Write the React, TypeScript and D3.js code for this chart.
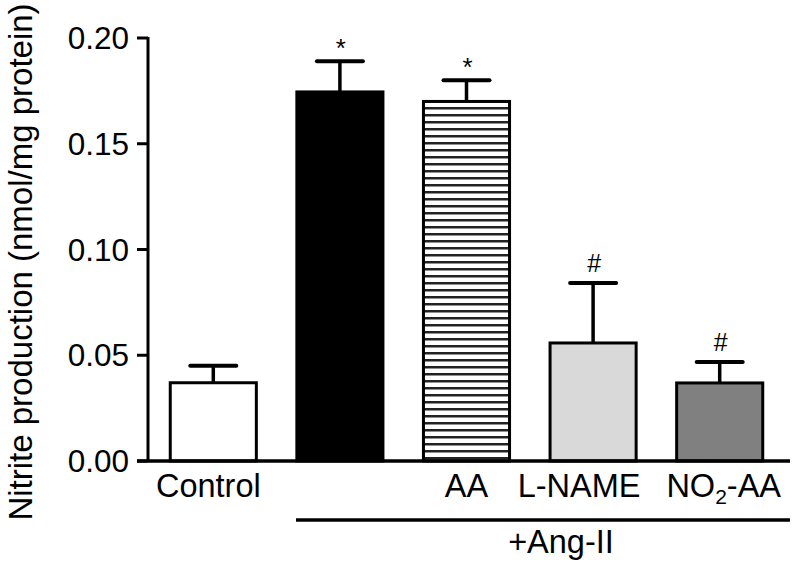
import React from "react";
import * as d3 from "d3";

const categories = ["Control", "Ang-II", "AA", "L-NAME", "NO2-AA"];
const means = [0.037, 0.1745, 0.170, 0.0558, 0.0369];
const errors = [0.008, 0.0145, 0.010, 0.0284, 0.0099];
const marks = ["", "*", "*", "#", "#"];
const yTicks = [0.0, 0.05, 0.1, 0.15, 0.2];
const fills = ["#ffffff", "#000000", "url(#hstripes)", "#d9d9d9", "#808080"];

const W = 792;
const H = 572;
const FONT = "Liberation Sans, Arial, sans-serif";

export default function App() {
  const y = d3.scaleLinear().domain([0, 0.2]).range([461, 38]);
  const x = d3
    .scaleBand<string>()
    .domain(categories)
    .range([150, 783])
    .paddingInner(0.32)
    .paddingOuter(0.16);
  const bw = x.bandwidth();
  const axisX = 148;

  return (
    <svg width={W} height={H} style={{ position: "absolute", left: 0, top: 0, background: "#fff" }}>
      <defs>
        <pattern id="hstripes" patternUnits="userSpaceOnUse" width={8} height={7}>
          <rect width={8} height={7} fill="#fff" />
          <rect y={2} width={8} height={2.5} fill="#222" />
        </pattern>
      </defs>
      <rect width={W} height={H} fill="#fff" />
      {categories.map((c, i) => {
        const x0 = x(c)!;
        const cx = x0 + bw / 2;
        const top = y(means[i]);
        const capY = y(means[i] + errors[i]);
        return (
          <g key={c}>
            <line x1={cx} x2={cx} y1={top} y2={capY} stroke="#000" strokeWidth={3.5} />
            <line x1={cx - 23} x2={cx + 23} y1={capY} y2={capY} stroke="#000" strokeWidth={4} strokeLinecap="round" />
            <rect x={x0} y={top} width={bw} height={y(0) - top} fill={fills[i]} stroke="#000" strokeWidth={3} />
            {marks[i] && (
              <text
                x={cx + 1}
                y={marks[i] === "*" ? capY - 4 : capY - 11}
                textAnchor="middle"
                fontFamily={FONT}
                fontSize={marks[i] === "*" ? 26 : 25}
                fill="#000"
              >
                {marks[i]}
              </text>
            )}
          </g>
        );
      })}
      <line x1={axisX} x2={axisX} y1={y(0.2) - 1} y2={y(0)} stroke="#000" strokeWidth={3} />
      {yTicks.map((t) => (
        <g key={t}>
          <line x1={137} x2={axisX} y1={y(t)} y2={y(t)} stroke="#000" strokeWidth={3} />
          <text x={129} y={y(t) + 11} textAnchor="end" fontFamily={FONT} fontSize={31.5} fill="#000">
            {d3.format(".2f")(t)}
          </text>
        </g>
      ))}
      <line x1={137} x2={790} y1={y(0)} y2={y(0)} stroke="#000" strokeWidth={3.5} />
      <text x={x("Control")! + bw / 2 - 5} y={497} textAnchor="middle" fontFamily={FONT} fontSize={32.5}>
        Control
      </text>
      <text x={x("AA")! + bw / 2} y={497} textAnchor="middle" fontFamily={FONT} fontSize={32.5}>
        AA
      </text>
      <text x={x("L-NAME")! + bw / 2 - 14} y={497} textAnchor="middle" fontFamily={FONT} fontSize={32.5}>
        L-NAME
      </text>
      <text x={x("NO2-AA")! + bw / 2 + 4} y={497} textAnchor="middle" fontFamily={FONT} fontSize={32.5}>
        NO<tspan fontSize={21} dy={7}>2</tspan><tspan dy={-7}>-AA</tspan>
      </text>
      <line x1={296} x2={790} y1={520} y2={520} stroke="#000" strokeWidth={3.5} />
      <text x={561} y={553} textAnchor="middle" fontFamily={FONT} fontSize={32.5}>
        +Ang-II
      </text>
      <text
        transform={`translate(32, 262) rotate(-90)`}
        textAnchor="middle"
        fontFamily={FONT}
        fontSize={33}
        fill="#000"
      >
        Nitrite production (nmol/mg protein)
      </text>
    </svg>
  );
}
